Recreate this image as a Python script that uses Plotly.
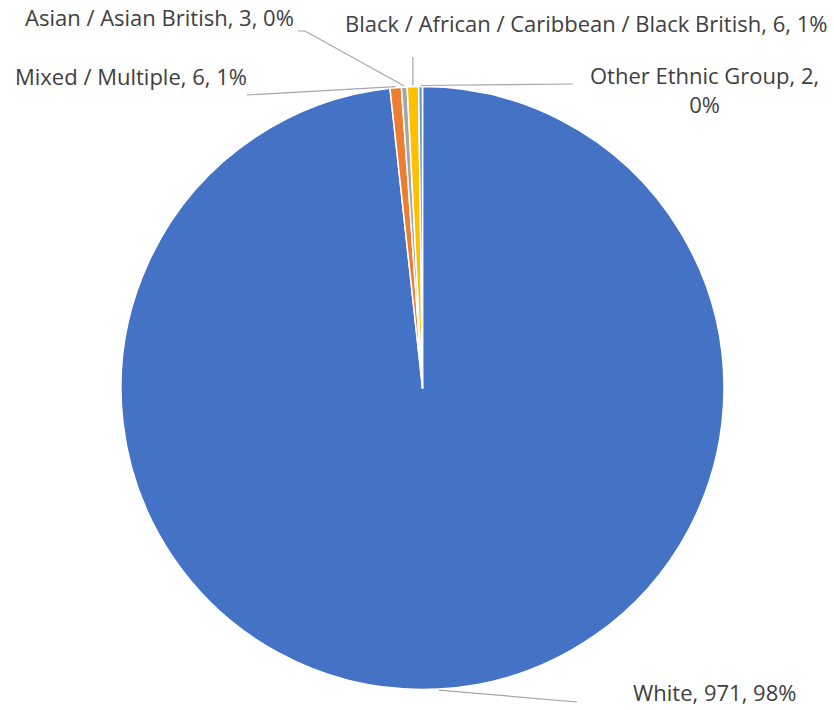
import math
import plotly.graph_objects as go

categories = ["White", "Mixed / Multiple", "Asian / Asian British",
              "Black / African / Caribbean / Black British", "Other Ethnic Group"]
values = [971, 6, 3, 6, 2]
colors = ["#4472C4", "#ED7D31", "#A5A5A5", "#FFC000", "#5B9BD5"]

W, H = 834, 710
CX, CY, R = 422.5, 388, 301.5

def px(x):
    return x / W

def py(y):
    return 1 - y / H

total = sum(values)
pcts = [round(v / total * 100) for v in values]
texts = [f"{c}, {v}, {p}%" for c, v, p in zip(categories, values, pcts)]

# Edge points at slice mid-angles (clockwise from 12 o'clock)
edge = []
cum = 0
for v in values:
    mid = (cum + v / 2) / total * 2 * math.pi
    edge.append((CX + (R + 1) * math.sin(mid), CY - (R + 1) * math.cos(mid)))
    cum += v

fig = go.Figure(go.Pie(
    labels=categories, values=values, sort=False, direction="clockwise",
    rotation=0, textinfo="none", hoverinfo="label+value+percent",
    marker=dict(colors=colors, line=dict(color="white", width=1.5)),
    domain=dict(x=[px(CX - R), px(CX + R)], y=[py(CY + R), py(CY - R)]),
    showlegend=False,
))

font = dict(family="Open Sans, Noto Sans, sans-serif", size=22, color="#404040")
labels_layout = [
    (texts[0], 631, 692, "left", [(577, 702)]),
    (texts[1], 13, 76, "left", [(247, 95)]),
    (texts[2], 296, 17, "right", [(305, 31), (298, 31)]),
    (texts[3], 343, 23, "left", [(edge[3][0], 57)]),
    (f"{categories[4]}, {values[4]},<br>{pcts[4]}%", 704, 89, "center", [(573, 84)]),
]

shapes = []
annotations = []
for i, (t, x, y, xa, pts) in enumerate(labels_layout):
    path_pts = [edge[i]] + pts
    d = "M " + " L ".join(f"{px(a):.5f},{py(b):.5f}" for a, b in path_pts)
    shapes.append(dict(type="path", path=d, xref="paper", yref="paper",
                       line=dict(color="#A6A6A6", width=1.2)))
    annotations.append(dict(text=t, x=px(x), y=py(y), xref="paper", yref="paper",
                            xanchor=xa, yanchor="middle", showarrow=False,
                            font=font, align="center"))

fig.update_layout(
    width=W, height=H, margin=dict(l=0, r=0, t=0, b=0),
    paper_bgcolor="white", plot_bgcolor="white",
    shapes=shapes, annotations=annotations,
)

fig.write_html("out.html", config={"displayModeBar": False},
               post_script="document.body.style.margin='0';")
